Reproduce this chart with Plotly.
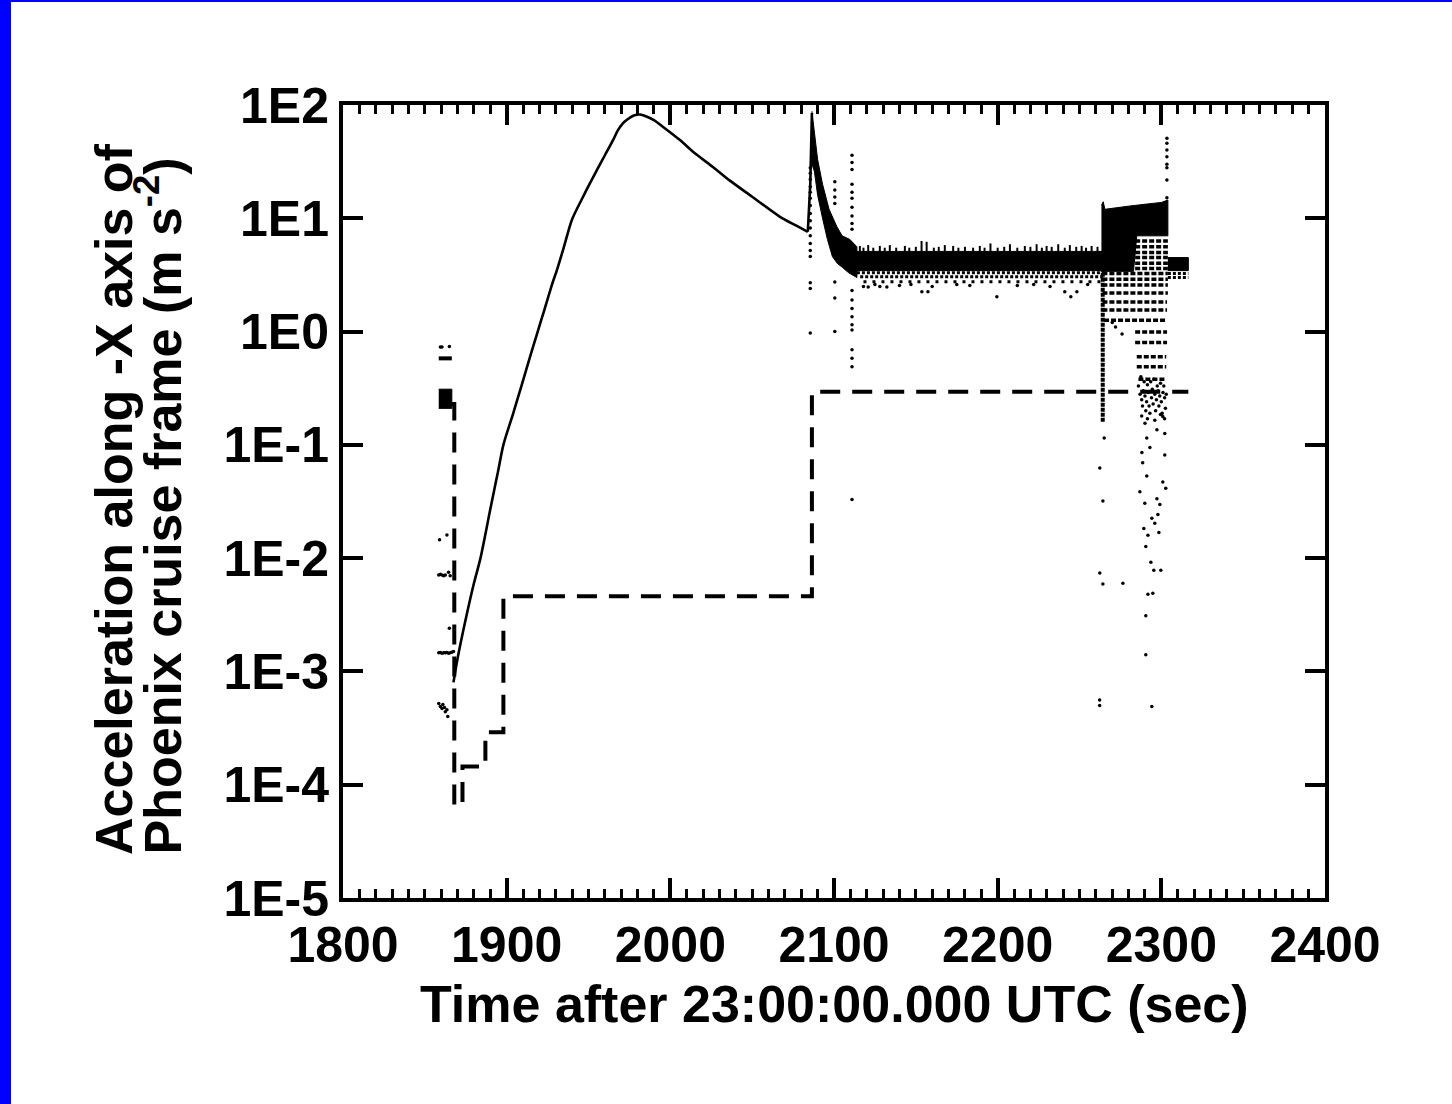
import plotly.graph_objects as go

# ---------------- data ----------------
# main smooth acceleration curve (solid line)
curve_t = [1867.5, 1870, 1875, 1880, 1884, 1890, 1895, 1898, 1904, 1909, 1914, 1918.5,
           1923, 1927.7, 1931, 1935, 1940, 1946.6, 1951, 1955.2, 1960, 1965,
           1968, 1971, 1973.5, 1977, 1979.6, 1981.5, 1985, 1990, 1995, 2005.9, 2015,
           2026, 2036.4, 2050, 2067, 2077, 2084, 2085.5, 2086.5]
curve_a = [8.0e-4, 1.3e-3, 2.9e-3, 6.0e-3, 1.0e-2, 2.7e-2, 6.1e-2, 0.10, 0.19, 0.33,
           0.58, 0.95, 1.55, 2.6, 3.6, 5.6, 9.8, 15.4, 20.5, 26.7, 36, 49,
           60, 69, 74, 80, 82, 82.5, 79.5, 73.5, 65, 49, 37.5,
           28.4, 21.5, 15.5, 10.3, 8.6, 7.6, 20, 85]

# dashed step function
step_t = [1866, 1868, 1868, 1873, 1873, 1887, 1887, 1898, 1898, 2086.5, 2086.5, 2316.5]
step_a = [0.23, 0.23, 6.6e-5, 6.6e-5, 1.45e-4, 1.45e-4, 2.9e-4, 2.9e-4, 0.0046, 0.0046,
          0.295, 0.295]

# dense decay band after the spike (upper / lower envelope)
decay_top_t = [2086.5, 2088, 2090, 2093, 2097, 2101.8, 2105, 2109.7, 2114]
decay_top_a = [88, 55, 33, 20, 12, 8.4, 7.0, 6.5, 5.6]
decay_bot_t = [2086.5, 2088, 2090, 2093, 2096, 2099, 2102, 2105, 2109, 2114]
decay_bot_a = [30, 26, 16, 10, 6.5, 4.6, 4.0, 3.7, 3.3, 3.0]

# dense flat band
flat_top_t = [2113, 2265]
flat_top_a = [5.1, 5.1]
flat_bot_t = [2113, 2265]
flat_bot_a = [3.45, 3.45]

# spikes on top of the flat band
spike_base = 5.1
spike_t = [2115.8, 2118, 2120.9, 2124, 2128, 2131, 2134.1, 2138, 2143.3, 2146,
           2150, 2153.5, 2156.6, 2161, 2164, 2167.7, 2172.8, 2176, 2180, 2185,
           2189.1, 2192, 2195.6, 2200, 2204, 2207.5, 2212, 2216.6, 2220, 2223.8,
           2227, 2229.9, 2233, 2237, 2241, 2244.1, 2248, 2251.3, 2254, 2257.4, 2261]
spike_a = [5.7, 5.5, 5.8, 5.5, 5.7, 5.5, 5.8, 5.5, 5.7, 5.5,
           5.6, 6.3, 6.2, 5.5, 5.6, 5.8, 5.7, 5.5, 5.6, 5.5,
           5.7, 5.5, 6.0, 5.5, 5.6, 5.9, 5.5, 5.7, 5.6, 5.9,
           5.5, 5.7, 5.6, 5.9, 5.5, 5.8, 5.6, 5.7, 5.5, 5.7, 5.6]

# quantised rows below the flat band
flat_rows_a = [3.3, 3.05, 2.75]
flat_rows_t0 = [2114, 2116, 2118]
flat_rows_t1 = [2265, 2265, 2265]

# dense block of the late burst
jump_top_t = [2263.4, 2264.5, 2265.5, 2270, 2280, 2290, 2300, 2304]
jump_top_a = [13, 14, 12, 12.3, 12.8, 13.3, 13.8, 14.5]
jump_bot_t = [2263.4, 2283, 2285, 2304]
jump_bot_a = [3.4, 3.4, 7.0, 7.0]

# quantised rows inside the late burst
jump_rows_a = [6.3, 5.6, 5.0, 4.5, 4.0, 3.6, 3.25, 2.9, 2.58, 2.19, 1.82, 1.55, 1.26,
               0.99, 0.80, 0.60, 0.49, 0.38]
jump_rows_t0 = [2284, 2284, 2284, 2284, 2284, 2284, 2264, 2264, 2264, 2264, 2264, 2264, 2265,
                2284, 2284, 2285, 2285, 2286]
jump_rows_t1 = [2304, 2304, 2304, 2304, 2304, 2304, 2304, 2304, 2304, 2304, 2303.5, 2303.5,
                2303.5, 2303.5, 2303.5, 2303, 2303, 2303]

# vertical streak at the burst onset
streak_t = [2264.2, 2264.2]
streak_a = [0.16, 5.0]

# final band
end_top_t = [2304, 2316.5]
end_top_a = [4.5, 4.5]
end_bot_t = [2304, 2316.5]
end_bot_a = [3.45, 3.45]
end_rows_a = [3.25, 3.0]
end_rows_t0 = [2304, 2304]
end_rows_t1 = [2316.5, 2316.5]

# early cluster (before the curve)
early_block_t = [1858.5, 1866.5]
early_block_top = [0.31, 0.31]
early_block_bot = [0.21, 0.21]
early_row_t = [1858.5, 1866.5]
early_row_a = [0.58, 0.58]
early_pts_t = [1859.5, 1860.5, 1865, 1859, 1863.5, 1858.5, 1859.5, 1860.5, 1861.5, 1862.5,
               1864.5, 1865.5, 1865, 1858.5, 1859.5, 1860.5, 1861.5, 1862.5, 1863.5, 1864.5,
               1865.5, 1866.5, 1867.5, 1858.5, 1859.5, 1860.5, 1861, 1862, 1862.5, 1863.5, 1864]
early_pts_a = [0.73, 0.73, 0.74, 0.0145, 0.016, 0.0071, 0.0072, 0.0071, 0.007, 0.0071,
               0.0075, 0.007, 0.0024, 0.00146, 0.00147, 0.00145, 0.00146, 0.00146, 0.00147, 0.00145,
               0.00146, 0.00148, 0.0015, 0.00052, 0.00049, 0.00047, 0.00051, 0.00048, 0.00044, 0.00046, 0.0004]

# sparse outlier columns after the spike
colA_t = [2085.5] * 17
colA_a = [28, 25, 22, 19, 17, 15, 13, 11, 9.5, 8.2, 7, 6, 5.2, 4.6, 2.7, 2.4, 0.97]
colB_t = [2100.5] * 7
colB_a = [21, 17.8, 15.4, 13.5, 2.74, 1.98, 1.0]
colC_t = [2111.0] * 20
colC_a = [36, 31, 27, 20, 17, 15, 12.5, 10.5, 9, 8, 2.3, 1.9, 1.6, 1.35, 1.15, 1.03,
          0.69, 0.58, 0.49, 0.033]
colD_t = [2303.4] * 8
colD_a = [51, 46, 40, 35, 30, 28, 21.8, 15.2]

# sparse points under the flat band
flat_pts_t = [2120.9, 2128, 2132.3, 2153.7, 2157.4, 2199.5, 2241, 2244.7, 2248.4, 2118,
              2125, 2140, 2147, 2160, 2175, 2183, 2212, 2222, 2232, 2255]
flat_pts_a = [2.48, 2.5, 2.48, 2.25, 2.25, 2.03, 2.25, 2.03, 2.25, 2.5,
              2.6, 2.55, 2.6, 2.5, 2.6, 2.55, 2.55, 2.6, 2.5, 2.6]

# burst: cluster around the dashed level and sparse tail
burst_pts_t = [2286, 2287, 2288, 2288.5, 2289, 2290, 2290.5, 2291, 2292, 2292.5, 2293, 2294,
               2294.5, 2295, 2296, 2296.5, 2297, 2298, 2298.5, 2299, 2300, 2300.5, 2301, 2302,
               2302.5, 2303, 2289.5, 2295.5, 2299.5, 2287.5, 2301.5, 2291.5, 2293.5, 2297.5,
               2288, 2291.5, 2302, 2299.5, 2290, 2296,
               2286.9, 2288.1, 2288.6, 2289.3, 2289.9, 2290.5, 2291.1, 2291.8, 2293, 2293.6,
               2294.2, 2294.8, 2295.4, 2296, 2297.3, 2297.9, 2298.5, 2299.1, 2299.7, 2300.9,
               2302.1, 2302.7, 2291.1, 2290.5, 2291.8, 2294.2, 2300.9, 2302.1, 2297.3, 2290.5,
               2265.1, 2262.4, 2264.3, 2262.4, 2264.3, 2276.5, 2262.3, 2262.3, 2272, 2276, 2270]
burst_pts_a = [0.33, 0.28, 0.25, 0.22, 0.3, 0.27, 0.2, 0.24, 0.29, 0.22, 0.19, 0.26,
               0.31, 0.23, 0.28, 0.2, 0.25, 0.3, 0.22, 0.27, 0.24, 0.19, 0.29, 0.26,
               0.21, 0.28, 0.36, 0.38, 0.35, 0.4, 0.33, 0.34, 0.36, 0.33,
               0.18, 0.17, 0.17, 0.185, 0.155, 0.165,
               0.0385, 0.0855, 0.0695, 0.0183, 0.0305, 0.0031, 0.053, 0.0159, 0.095, 0.0092,
               0.0225, 0.0049, 0.0078, 0.0203, 0.136, 0.0243, 0.0168, 0.0297, 0.0078, 0.047,
               0.126, 0.0415, 0.115, 0.0127, 0.0048, 0.00049, 0.178, 0.0815, 0.0335, 0.0014,
               0.115, 0.0625, 0.032, 0.0074, 0.0059, 0.006, 0.00056, 0.0005, 1.1, 0.95, 1.2]

x_ticks = [1800, 1900, 2000, 2100, 2200, 2300, 2400]
y_tickvals = [1e-5, 1e-4, 1e-3, 1e-2, 1e-1, 1e0, 1e1, 1e2]
y_ticktext = ["1E-5", "1E-4", "1E-3", "1E-2", "1E-1", "1E0", "1E1", "1E2"]

x_title = "Time after 23:00:00.000 UTC (sec)"
y_title_1 = "Acceleration along -X axis of"
y_title_2 = "Phoenix cruise frame (m s<sup>-2</sup>)"

# ---------------- helpers ----------------
BLACK = "black"


def band(top_t, top_a, bot_t, bot_a):
    xs = list(top_t) + list(reversed(bot_t))
    ys = list(top_a) + list(reversed(bot_a))
    return go.Scatter(x=xs, y=ys, mode="lines", fill="toself", fillcolor=BLACK,
                      line=dict(color=BLACK, width=1), hoverinfo="skip")


def segments_h(t0s, t1s, ys, width, dash):
    xs, yy = [], []
    for a, b, y in zip(t0s, t1s, ys):
        xs += [a, b, None]
        yy += [y, y, None]
    return go.Scatter(x=xs, y=yy, mode="lines", line=dict(color=BLACK, width=width, dash=dash),
                      hoverinfo="skip")


def segments_v(ts, base, tops, width):
    xs, yy = [], []
    for t, top in zip(ts, tops):
        xs += [t, t, None]
        yy += [base, top, None]
    return go.Scatter(x=xs, y=yy, mode="lines", line=dict(color=BLACK, width=width),
                      hoverinfo="skip")


def pts(ts, aa, size=3.5):
    return go.Scatter(x=ts, y=aa, mode="markers",
                      marker=dict(color=BLACK, size=size, line=dict(width=0)), hoverinfo="skip")


fig = go.Figure()

# dense masses
fig.add_trace(band(decay_top_t, decay_top_a, decay_bot_t, decay_bot_a))
fig.add_trace(band(flat_top_t, flat_top_a, flat_bot_t, flat_bot_a))
fig.add_trace(band(jump_top_t, jump_top_a, jump_bot_t, jump_bot_a))
fig.add_trace(band(end_top_t, end_top_a, end_bot_t, end_bot_a))
fig.add_trace(band(early_block_t, early_block_top, early_block_t, early_block_bot))

# spikes and quantised rows
fig.add_trace(segments_v(spike_t, spike_base, spike_a, 2))
fig.add_trace(segments_h(flat_rows_t0[:2], flat_rows_t1[:2], flat_rows_a[:2], 3, "3px,2px"))
fig.add_trace(segments_h(flat_rows_t0[2:], flat_rows_t1[2:], flat_rows_a[2:], 3, "3px,6px"))
fig.add_trace(segments_h(jump_rows_t0, jump_rows_t1, jump_rows_a, 3.5, "5px,2px"))
fig.add_trace(segments_h(end_rows_t0, end_rows_t1, end_rows_a, 3, "3px,2px"))
fig.add_trace(go.Scatter(x=streak_t, y=streak_a, mode="lines",
                         line=dict(color=BLACK, width=4, dash="4px,1px"), hoverinfo="skip"))
fig.add_trace(go.Scatter(x=early_row_t, y=early_row_a, mode="lines",
                         line=dict(color=BLACK, width=4), hoverinfo="skip"))

# sparse points
fig.add_trace(pts(early_pts_t, early_pts_a))
fig.add_trace(pts(colA_t, colA_a))
fig.add_trace(pts(colB_t, colB_a))
fig.add_trace(pts(colC_t, colC_a))
fig.add_trace(pts(colD_t, colD_a))
fig.add_trace(pts(flat_pts_t, flat_pts_a))
fig.add_trace(pts(burst_pts_t, burst_pts_a))

# curve (smooth part + the sharp spike) and dashed step
n_smooth = curve_t.index(2084) + 1
fig.add_trace(go.Scatter(x=curve_t[:n_smooth], y=curve_a[:n_smooth], mode="lines",
                         line=dict(color=BLACK, width=2.6, shape="spline", smoothing=0.8),
                         hoverinfo="skip"))
fig.add_trace(go.Scatter(x=curve_t[n_smooth - 1:], y=curve_a[n_smooth - 1:], mode="lines",
                         line=dict(color=BLACK, width=2.6), hoverinfo="skip"))
fig.add_trace(go.Scatter(x=step_t, y=step_a, mode="lines",
                         line=dict(color=BLACK, width=4, dash="20px,12px"), hoverinfo="skip"))

W, H = 1452, 1104
L, R, T, B = 343, 127, 105, 206
pw, ph = W - L - R, H - T - B


def px_x(p):
    return (p - L) / pw


def px_y(p):
    return (H - B - p) / ph


tick_font = dict(family="Liberation Sans, Arial, sans-serif", size=50, color=BLACK, weight="bold")
title_font = dict(family="Liberation Sans, Arial, sans-serif", size=52, color=BLACK, weight="bold")

fig.update_layout(
    width=W, height=H,
    margin=dict(l=L, r=R, t=T, b=B, pad=0),
    paper_bgcolor="white", plot_bgcolor="white",
    showlegend=False,
    xaxis=dict(range=[1800, 2400], tickvals=x_ticks, ticktext=[str(v) for v in x_ticks],
               ticks="inside", ticklen=20, tickwidth=4, tickcolor=BLACK,
               showline=True, linewidth=4, linecolor=BLACK, mirror="ticks",
               showgrid=False, zeroline=False, tickfont=tick_font,
               minor=dict(dtick=10, tick0=1800, ticks="inside", ticklen=9, tickwidth=3,
                          tickcolor=BLACK, showgrid=False)),
    yaxis=dict(type="log", range=[-5, 2], tickvals=y_tickvals, ticktext=y_ticktext,
               ticks="inside", ticklen=20, tickwidth=4, tickcolor=BLACK,
               showline=True, linewidth=4, linecolor=BLACK, mirror="ticks",
               showgrid=False, zeroline=False, tickfont=tick_font),
    annotations=[
        dict(text=x_title, xref="paper", yref="paper", x=0.5, y=px_y(1004),
             xanchor="center", yanchor="middle", showarrow=False, font=title_font),
        dict(text=y_title_1, xref="paper", yref="paper", x=px_x(114), y=px_y(857),
             xanchor="center", yanchor="bottom", textangle=-90, showarrow=False, font=title_font),
        dict(text=y_title_2, xref="paper", yref="paper", x=px_x(159), y=px_y(857),
             xanchor="center", yanchor="bottom", textangle=-90, showarrow=False, font=title_font),
    ],
    shapes=[
        dict(type="rect", xref="paper", yref="paper", x0=px_x(0), x1=px_x(11), y0=px_y(H), y1=px_y(0),
             fillcolor="#0000FF", line=dict(width=0), layer="above"),
        dict(type="rect", xref="paper", yref="paper", x0=px_x(0), x1=px_x(W), y0=px_y(2), y1=px_y(0),
             fillcolor="#0000FF", line=dict(width=0), layer="above"),
    ],
)

fig.write_html("out.html", config={"displayModeBar": False},
               post_script="document.body.style.margin='0';")
